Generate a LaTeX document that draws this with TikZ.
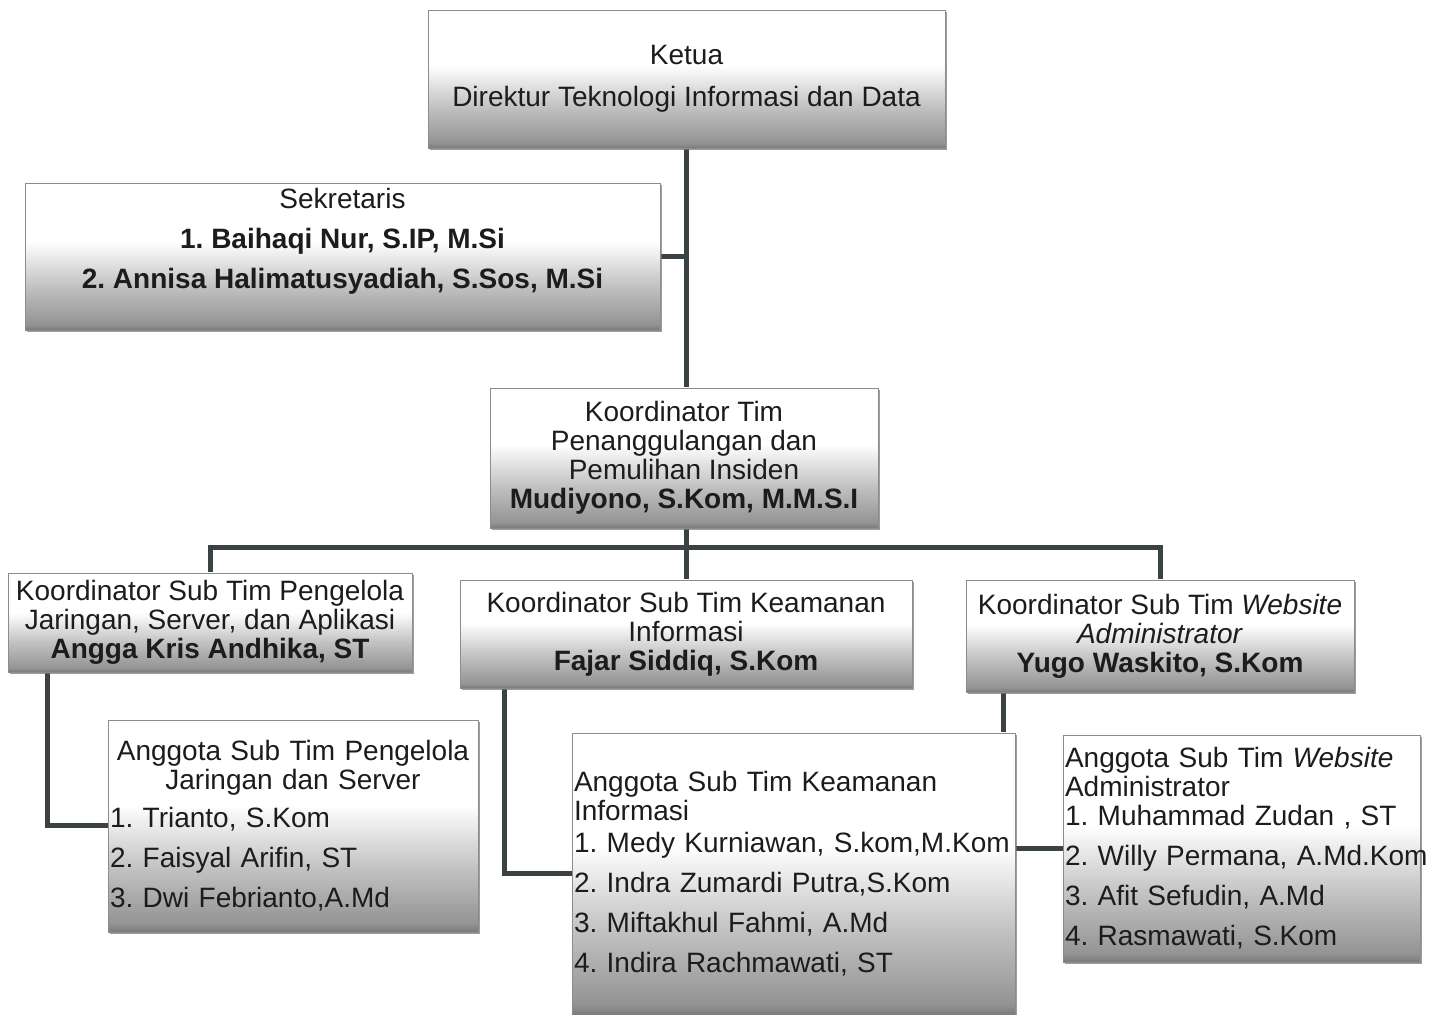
\documentclass[tikz,border=0pt]{standalone}
\usepackage{fontspec}
\setmainfont{Liberation Sans}
\usepackage{tikz}
\usetikzlibrary{shadows, backgrounds}
\definecolor{linegray}{RGB}{58,66,68}
\definecolor{textgray}{RGB}{28,28,28}
\pgfdeclareverticalshading{boxshade}{100bp}{color(0bp)=(black!52); color(25bp)=(black!52); color(27bp)=(black!42); color(40bp)=(black!24); color(55bp)=(white); color(75bp)=(white); color(100bp)=(white)}
\frenchspacing

\begin{document}
\begin{tikzpicture}[x=0.5pt, y=-0.5pt,
    orgbox/.style={draw=black!45, line width=0.3pt, shade, shading=boxshade,
        drop shadow={shadow xshift=1pt, shadow yshift=-1pt, fill=black!55, opacity=0.7},
        inner sep=1pt, font=\fontsize{14}{14.5}\selectfont, text=textgray, align=center},
    listbox/.style={orgbox, align=left},
    link/.style={draw=linegray, line width=2.5pt}]
    \useasboundingbox (0,0) rectangle (1442,1015);

    % Ketua
    \node[orgbox, minimum width=258.5pt, minimum height=69pt] (ketua) at (686.5,79)
        {Ketua\\[6.5pt] Direktur Teknologi Informasi dan Data};

    % Sekretaris
    \node[orgbox, minimum width=317.5pt, minimum height=73.5pt] (sek) at (342.5,256.5)
        {Sekretaris\\[5.5pt] \textbf{1. Baihaqi Nur, S.IP, M.Si}\\[5.5pt]
         \textbf{2. Annisa Halimatusyadiah, S.Sos, M.Si}\\[4pt]\mbox{}};

    % Koordinator tim
    \node[orgbox, minimum width=194pt, minimum height=70pt] (koor) at (684,458)
        {Koordinator Tim\\ Penanggulangan dan\\ Pemulihan Insiden\\ \textbf{Mudiyono, S.Kom, M.M.S.I}};

    % Koordinator sub tim
    \node[orgbox, minimum width=202pt, minimum height=49.5pt] (sub1) at (210,622.5)
        {Koordinator Sub Tim Pengelola\\ Jaringan, Server, dan Aplikasi\\ \textbf{Angga Kris Andhika, ST}};
    \node[orgbox, minimum width=226pt, minimum height=54pt] (sub2) at (686,634)
        {Koordinator Sub Tim Keamanan\\ Informasi\\ \textbf{Fajar Siddiq, S.Kom}};
    \node[orgbox, minimum width=194pt, minimum height=56pt] (sub3) at (1160,636)
        {Koordinator Sub Tim \textit{Website}\\ \textit{Administrator}\\ \textbf{Yugo Waskito, S.Kom}};

    % Anggota sub tim
    \node[listbox, text width=183pt, minimum width=185pt, minimum height=106pt] (ang1) at (293,826)
        {\makebox[\hsize]{Anggota Sub Tim Pengelola}\\ \makebox[\hsize]{Jaringan dan Server}\\[4.5pt]
         1. Trianto, S.Kom\\[5.5pt] 2. Faisyal Arifin, ST\\[5.5pt] 3. Dwi Febrianto,A.Md};
    \node[listbox, text width=219.5pt, minimum width=221.5pt, minimum height=141pt] (ang2) at (793.5,874)
        {Anggota Sub Tim Keamanan\\ Informasi\\[1.5pt] \mbox{1. Medy Kurniawan, S.kom,M.Kom}\\[5.5pt]
         2. Indra Zumardi Putra,S.Kom\\[5.5pt] 3. Miftakhul Fahmi, A.Md\\[5.5pt] 4. Indira Rachmawati, ST};
    \node[listbox, text width=176.5pt, minimum width=178.5pt, minimum height=113.5pt] (ang3) at (1241.5,848.5)
        {Anggota Sub Tim \textit{Website}\\ Administrator\\ 1. Muhammad Zudan , ST\\[5.5pt]
         \mbox{2. Willy Permana, A.Md.Kom}\\[5.5pt] 3. Afit Sefudin, A.Md\\[5.5pt] 4. Rasmawati, S.Kom};

    \coordinate (bus) at (686,548);

    % Garis penghubung
    \begin{scope}[on background layer]
        \draw[link] (ketua.south) -- (ketua.south |- koor.north);
        \draw[link] (sek.east) -- (sek.east -| ketua.south);
        \draw[link] (koor.south -| bus) -- (sub2.north -| bus);
        \draw[link] (sub1.north) -- (sub1.north |- bus) -- (sub3.north |- bus) -- (sub3.north);
        \draw[link] ([xshift=20pt]sub1.south west) |- (ang1.west);
        \draw[link] ([xshift=22.5pt]sub2.south west) |- (ang2.west);
        \draw[link] ([xshift=19pt]sub3.south west) |- (ang3.west);
    \end{scope}
\end{tikzpicture}
\end{document}
